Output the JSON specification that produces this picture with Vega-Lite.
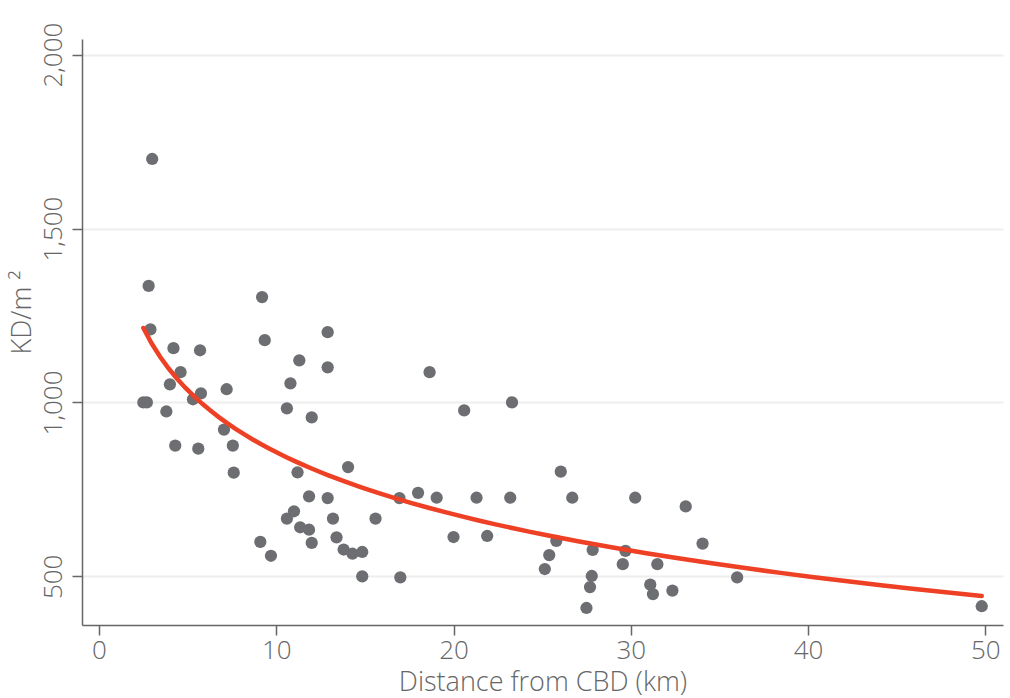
{
  "$schema": "https://vega.github.io/schema/vega-lite/v6.json",
  "width": 921,
  "height": 586,
  "autosize": {"type": "none"},
  "padding": {"left": 82, "top": 39, "right": 7, "bottom": 73},
  "background": "white",
  "config": {
    "view": {"stroke": null},
    "font": "Open Sans",
    "axis": {
      "domainColor": "#666666",
      "domainWidth": 1.5,
      "tickColor": "#666666",
      "tickWidth": 1.5,
      "tickSize": 10,
      "labelColor": "#666666",
      "labelFont": "Open Sans",
      "labelFontWeight": 300,
      "labelFontSize": 26,
      "titleColor": "#666666",
      "titleFont": "Open Sans",
      "titleFontWeight": 300,
      "titleFontSize": 27
    }
  },
  "data": {
    "values": [
      {"dist": 3.0, "kd": 1700}, {"dist": 2.8, "kd": 1335}, {"dist": 2.9, "kd": 1210},
      {"dist": 2.5, "kd": 1000}, {"dist": 2.7, "kd": 1000}, {"dist": 4.2, "kd": 1156},
      {"dist": 4.0, "kd": 1052}, {"dist": 4.6, "kd": 1087}, {"dist": 3.8, "kd": 974},
      {"dist": 4.3, "kd": 876}, {"dist": 5.7, "kd": 1150}, {"dist": 5.75, "kd": 1026},
      {"dist": 5.3, "kd": 1009}, {"dist": 5.6, "kd": 867}, {"dist": 7.2, "kd": 1038},
      {"dist": 7.05, "kd": 922}, {"dist": 7.55, "kd": 876}, {"dist": 7.6, "kd": 798},
      {"dist": 9.2, "kd": 1303}, {"dist": 9.35, "kd": 1179}, {"dist": 9.1, "kd": 599},
      {"dist": 9.7, "kd": 559}, {"dist": 10.6, "kd": 983}, {"dist": 10.8, "kd": 1055},
      {"dist": 11.3, "kd": 1121}, {"dist": 12.0, "kd": 957}, {"dist": 12.9, "kd": 1202},
      {"dist": 12.9, "kd": 1101}, {"dist": 11.2, "kd": 799}, {"dist": 11.85, "kd": 730},
      {"dist": 12.9, "kd": 725}, {"dist": 10.6, "kd": 666}, {"dist": 11.0, "kd": 687},
      {"dist": 11.35, "kd": 641}, {"dist": 11.85, "kd": 634}, {"dist": 12.0, "kd": 596},
      {"dist": 13.2, "kd": 666}, {"dist": 13.4, "kd": 612}, {"dist": 13.8, "kd": 577},
      {"dist": 14.3, "kd": 565}, {"dist": 14.85, "kd": 570}, {"dist": 14.05, "kd": 814},
      {"dist": 14.85, "kd": 500}, {"dist": 15.6, "kd": 666}, {"dist": 16.95, "kd": 725},
      {"dist": 17.0, "kd": 497}, {"dist": 18.0, "kd": 740}, {"dist": 19.05, "kd": 726},
      {"dist": 18.65, "kd": 1087}, {"dist": 20.0, "kd": 613}, {"dist": 20.6, "kd": 977},
      {"dist": 21.3, "kd": 726}, {"dist": 21.9, "kd": 616}, {"dist": 23.2, "kd": 726},
      {"dist": 23.3, "kd": 1000}, {"dist": 25.15, "kd": 521}, {"dist": 25.4, "kd": 561},
      {"dist": 25.8, "kd": 602}, {"dist": 26.05, "kd": 801}, {"dist": 26.7, "kd": 726},
      {"dist": 27.5, "kd": 409}, {"dist": 27.7, "kd": 469}, {"dist": 27.8, "kd": 501},
      {"dist": 27.85, "kd": 576}, {"dist": 29.55, "kd": 535}, {"dist": 29.7, "kd": 573},
      {"dist": 30.25, "kd": 726}, {"dist": 31.1, "kd": 476}, {"dist": 31.25, "kd": 449},
      {"dist": 31.5, "kd": 535}, {"dist": 32.35, "kd": 459}, {"dist": 33.1, "kd": 701},
      {"dist": 34.05, "kd": 594}, {"dist": 36.0, "kd": 497}, {"dist": 49.8, "kd": 414}
    ]
  },
  "encoding": {
    "x": {
      "field": "dist",
      "type": "quantitative",
      "scale": {"domain": [-0.96, 51], "nice": false, "zero": false},
      "axis": {
        "title": "Distance from CBD (km)",
        "values": [0, 10, 20, 30, 40, 50],
        "grid": false,
        "labelPadding": 2,
        "titlePadding": 6
      }
    },
    "y": {
      "field": "kd",
      "type": "quantitative",
      "scale": {"domain": [360, 2045], "nice": false, "zero": false},
      "axis": {
        "title": "KD/m ²",
        "values": [500, 1000, 1500, 2000],
        "format": ",.0f",
        "grid": true,
        "gridColor": "#eeeeee",
        "gridWidth": 2,
        "labelAngle": -90,
        "labelAlign": "center",
        "labelBaseline": "bottom",
        "labelPadding": 6,
        "titlePadding": 4,
        "titleY": 273,
        "titleAlign": "center"
      }
    }
  },
  "layer": [
    {
      "mark": {"type": "circle", "size": 150, "color": "#6d6e72", "opacity": 1}
    },
    {
      "transform": [{"regression": "kd", "on": "dist", "method": "log"}],
      "mark": {"type": "line", "color": "#ee4024", "strokeWidth": 4.5, "strokeCap": "round"}
    }
  ]
}
